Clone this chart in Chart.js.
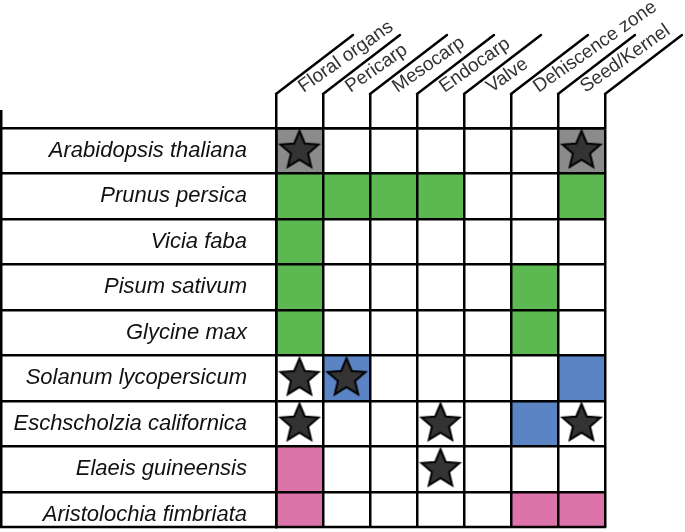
<!DOCTYPE html>
<html>
<head>
<meta charset="utf-8">
<script src="https://cdn.jsdelivr.net/npm/chart.js@4/dist/chart.umd.min.js"></script>
<style>
  html, body { margin: 0; padding: 0; background: #fff; }
  #wrap { width: 685px; height: 532px; position: relative; }
</style>
</head>
<body>
<div id="wrap"><canvas id="grid"></canvas></div>
<script>
const species = [
    "Arabidopsis thaliana",
    "Prunus persica",
    "Vicia faba",
    "Pisum sativum",
    "Glycine max",
    "Solanum lycopersicum",
    "Eschscholzia californica",
    "Elaeis guineensis",
    "Aristolochia fimbriata",
];
const tissues = ["Floral organs", "Pericarp", "Mesocarp", "Endocarp", "Valve", "Dehiscence zone", "Seed/Kernel"];

// which colour group each species belongs to (index into groupColors)
const speciesGroup = [0, 1, 1, 1, 1, 2, 2, 3, 3];

// 1 = coloured cell, one row per species, one column per tissue
const coloredCells = [
    [1, 0, 0, 0, 0, 0, 1],
    [1, 1, 1, 1, 0, 0, 1],
    [1, 0, 0, 0, 0, 0, 0],
    [1, 0, 0, 0, 0, 1, 0],
    [1, 0, 0, 0, 0, 1, 0],
    [0, 1, 0, 0, 0, 0, 1],
    [0, 0, 0, 0, 0, 1, 0],
    [1, 0, 0, 0, 0, 0, 0],
    [1, 0, 0, 0, 0, 1, 1],
];

// 1 = star in the cell
const starredCells = [
    [1, 0, 0, 0, 0, 0, 1],
    [0, 0, 0, 0, 0, 0, 0],
    [0, 0, 0, 0, 0, 0, 0],
    [0, 0, 0, 0, 0, 0, 0],
    [0, 0, 0, 0, 0, 0, 0],
    [1, 1, 0, 0, 0, 0, 0],
    [1, 0, 0, 1, 0, 0, 1],
    [0, 0, 0, 1, 0, 0, 0],
    [0, 0, 0, 0, 0, 0, 0],
];

const groupColors = ["#8b8b8b", "#5cb850", "#5b84c4", "#dc74aa"];
const visibleRows = 8.77; // last row is cut off in the figure

const LINE = 2.5;
const HEADER_TICK = 34;
const SLANT_LEN = 97;
const SLANT_ANGLE = 37.5 * Math.PI / 180;


// star image used as the point style
function makeStar(radius) {
    const size = Math.ceil(radius * 2 + 6);
    const c = document.createElement("canvas");
    c.width = size;
    c.height = size;
    const g = c.getContext("2d");
    const cx = size / 2, cy = size / 2, inner = radius * 0.45;
    g.beginPath();
    for (let i = 0; i < 10; i++) {
        const r = i % 2 === 0 ? radius : inner;
        const a = -Math.PI / 2 + i * Math.PI / 5;
        const px = cx + r * Math.cos(a);
        const py = cy + r * Math.sin(a);
        if (i === 0) g.moveTo(px, py); else g.lineTo(px, py);
    }
    g.closePath();
    g.fillStyle = "#333333";
    g.fill();
    g.lineWidth = 2;
    g.lineJoin = "miter";
    g.strokeStyle = "#000";
    g.stroke();
    return c;
}


// one bar dataset per colour group, each cell a floating bar [col, col+1]
function buildCellDatasets() {
    return groupColors.map((color, g) => {
        const cells = [];
        coloredCells.forEach((row, r) => {
            if (speciesGroup[r] !== g) return;
            row.forEach((on, c) => {
                if (on) cells.push({ x: [c, c + 1], y: r + 0.5 });
            });
        });
        return {
            type: "bar",
            label: "group " + g,
            data: cells,
            backgroundColor: color,
            borderWidth: 0,
            barPercentage: 1,
            categoryPercentage: 1,
            grouped: false,
            order: 1,
        };
    });
}

function buildStarData() {
    const pts = [];
    starredCells.forEach((row, r) => {
        row.forEach((on, c) => {
            if (on) pts.push({ x: c + 0.5, y: r + 0.5 });
        });
    });
    return pts;
}


// slanted header lines, outer frame on the left and the bottom edge
const tableFrame = {
    id: "tableFrame",
    afterDraw(chart) {
        const { ctx, chartArea, scales } = chart;
        const xs = scales.x;
        const top = xs.bottom - HEADER_TICK;
        ctx.save();
        ctx.strokeStyle = "#000";
        ctx.lineWidth = LINE;
        ctx.lineCap = "round";
        for (let i = 0; i <= tissues.length; i++) {
            const x = xs.getPixelForValue(i);
            ctx.beginPath();
            ctx.moveTo(x, top);
            ctx.lineTo(x + SLANT_LEN * Math.cos(SLANT_ANGLE), top - SLANT_LEN * Math.sin(SLANT_ANGLE));
            ctx.stroke();
        }
        ctx.lineCap = "butt";
        ctx.beginPath();
        ctx.moveTo(LINE / 2, chartArea.top - 18);
        ctx.lineTo(LINE / 2, chartArea.bottom);
        ctx.moveTo(0, chartArea.bottom);
        ctx.lineTo(chartArea.right + LINE / 2, chartArea.bottom);
        ctx.stroke();
        ctx.restore();
    }
};


function initChart() {
    const star = makeStar(20);
    const datasets = [{
        type: "scatter",
        label: "stars",
        data: buildStarData(),
        pointStyle: star,
        showLine: false,
        order: -1,
    }].concat(buildCellDatasets());

    new Chart(document.getElementById("grid"), {
        type: "bar",
        data: { datasets: datasets },
        options: {
            indexAxis: "y",
            responsive: true,
            maintainAspectRatio: false,
            animation: false,
            events: [],
            layout: { padding: { left: 0, top: 0, right: 80, bottom: 4 } },
            plugins: { legend: { display: false }, tooltip: { enabled: false } },
            scales: {
                x: {
                    type: "linear",
                    position: "top",
                    offset: false,
                    min: 0,
                    max: tissues.length,
                    afterBuildTicks: (axis) => {
                        axis.ticks = tissues.map((t, i) => ({ value: i + 0.5 }));
                    },
                    afterFit: (axis) => { axis.height = 128; },
                    grid: {
                        z: 1,
                        offset: true,
                        color: "#000",
                        lineWidth: LINE,
                        drawTicks: true,
                        tickLength: HEADER_TICK,
                        tickColor: "#000",
                        tickWidth: LINE,
                    },
                    border: { display: true, color: "#000", width: LINE, z: 1 },
                    ticks: {
                        z: 1,
                        autoSkip: false,
                        minRotation: 35,
                        maxRotation: 35,
                        padding: -4,
                        labelOffset: 14,
                        color: "#333",
                        font: { family: "'Liberation Sans', Arial, sans-serif", size: 19 },
                        callback: (v, i) => tissues[i],
                    },
                },
                y: {
                    type: "linear",
                    position: "left",
                    offset: false,
                    reverse: true,
                    min: 0,
                    max: visibleRows,
                    afterBuildTicks: (axis) => {
                        axis.ticks = species.map((s, i) => ({ value: i + 0.5 }));
                    },
                    afterFit: (axis) => { axis.width = 276; },
                    grid: {
                        z: 1,
                        offset: true,
                        color: "#000",
                        lineWidth: LINE,
                        drawTicks: true,
                        tickLength: 276,
                        tickColor: "#000",
                        tickWidth: LINE,
                    },
                    border: { display: true, color: "#000", width: LINE, z: 1 },
                    ticks: {
                        z: 1,
                        autoSkip: false,
                        padding: -247,
                        color: "#111",
                        font: { family: "'Liberation Sans', Arial, sans-serif", size: 22, style: "italic" },
                        callback: (v, i) => species[i],
                    },
                },
            },
        },
        plugins: [tableFrame],
    });
}

initChart();
</script>
</body>
</html>
